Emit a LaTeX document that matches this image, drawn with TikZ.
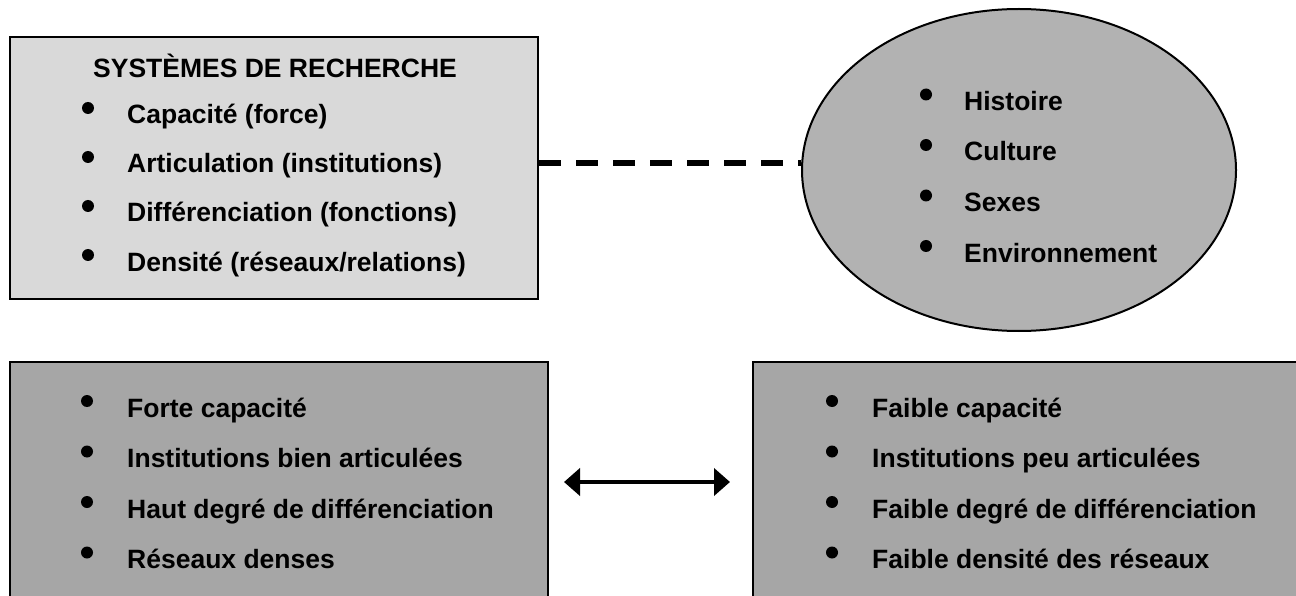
\documentclass[tikz,border=0pt]{standalone}
\usepackage{fontspec}
\setmainfont{Liberation Sans}
\usetikzlibrary{shapes.geometric,arrows.meta}
\definecolor{boxlight}{RGB}{217,217,217}
\definecolor{ellgray}{RGB}{178,178,178}
\definecolor{boxdark}{RGB}{166,166,166}
\begin{document}
\begin{tikzpicture}[x=1pt,y=-1pt,
  txt/.style={font=\fontsize{26.5}{30}\selectfont\bfseries, anchor=base west, inner sep=0pt},
  itemdot/.style={circle, fill=black, minimum size=12pt, inner sep=0pt},
  panel/.style={draw=black, line width=2pt, inner sep=0pt},
  dashln/.style={line width=6pt, dash pattern=on 22pt off 15pt},
  dblarrow/.style={line width=4pt, {Triangle[length=16pt,width=27pt]}-{Triangle[length=16pt,width=27pt]}}
]
\useasboundingbox (0,0) rectangle (1296,596);
\clip (0,0) rectangle (1296,596);
% panels
\node[panel, fill=boxlight, minimum width=528pt, minimum height=261pt] (sys) at (274,168) {};
\node[ellipse, draw=black, line width=2pt, fill=ellgray, minimum width=434pt, minimum height=322pt, inner sep=0pt] (env) at (1019,170) {};
\node[panel, fill=boxdark, minimum width=538pt, minimum height=240pt] (lb) at (279,482) {};
\node[panel, fill=boxdark, minimum width=557pt, minimum height=240pt] (rb) at (1031.5,482) {};
% connectors
\draw[dashln] ([yshift=5pt]sys.east) -- ([yshift=7pt]env.west);
\draw[dblarrow, shorten <=15pt, shorten >=22pt] (lb.east) -- (rb.west);
% top-left box text
\node[txt, anchor=base] (title) at (275,78) {SYSTÈMES DE RECHERCHE};
\node[itemdot] (d1) at (88,108) {};
\node[itemdot] (d2) at (88,157) {};
\node[itemdot] (d3) at (88,206) {};
\node[itemdot] (d4) at (88,255) {};
\node[txt] (s1) at (127,124) {Capacité (force)};
\node[txt] (s2) at (127,173) {Articulation (institutions)};
\node[txt] (s3) at (127,222) {Différenciation (fonctions)};
\node[txt] (s4) at (127,271) {Densité (réseaux/relations)};
% ellipse text
\node[itemdot] (e1d) at (926,94.5) {};
\node[itemdot] (e2d) at (926,145) {};
\node[itemdot] (e3d) at (926,195.5) {};
\node[itemdot] (e4d) at (926,246) {};
\node[txt] (e1) at (964,110.5) {Histoire};
\node[txt] (e2) at (964,161) {Culture};
\node[txt] (e3) at (964,211.5) {Sexes};
\node[txt] (e4) at (964,262) {Environnement};
% bottom-left text
\node[itemdot] (l1d) at (87,401) {};
\node[itemdot] (l2d) at (87,451.5) {};
\node[itemdot] (l3d) at (87,502) {};
\node[itemdot] (l4d) at (87,552.5) {};
\node[txt] (l1) at (127,417) {Forte capacité};
\node[txt] (l2) at (127,467.5) {Institutions bien articulées};
\node[txt] (l3) at (127,518) {Haut degré de différenciation};
\node[txt] (l4) at (127,568.5) {Réseaux denses};
% bottom-right text
\node[itemdot] (r1d) at (832,401) {};
\node[itemdot] (r2d) at (832,451.5) {};
\node[itemdot] (r3d) at (832,502) {};
\node[itemdot] (r4d) at (832,552.5) {};
\node[txt] (r1) at (872,417) {Faible capacité};
\node[txt] (r2) at (872,467.5) {Institutions peu articulées};
\node[txt] (r3) at (872,518) {Faible degré de différenciation};
\node[txt] (r4) at (872,568.5) {Faible densité des réseaux};
\end{tikzpicture}
\end{document}
